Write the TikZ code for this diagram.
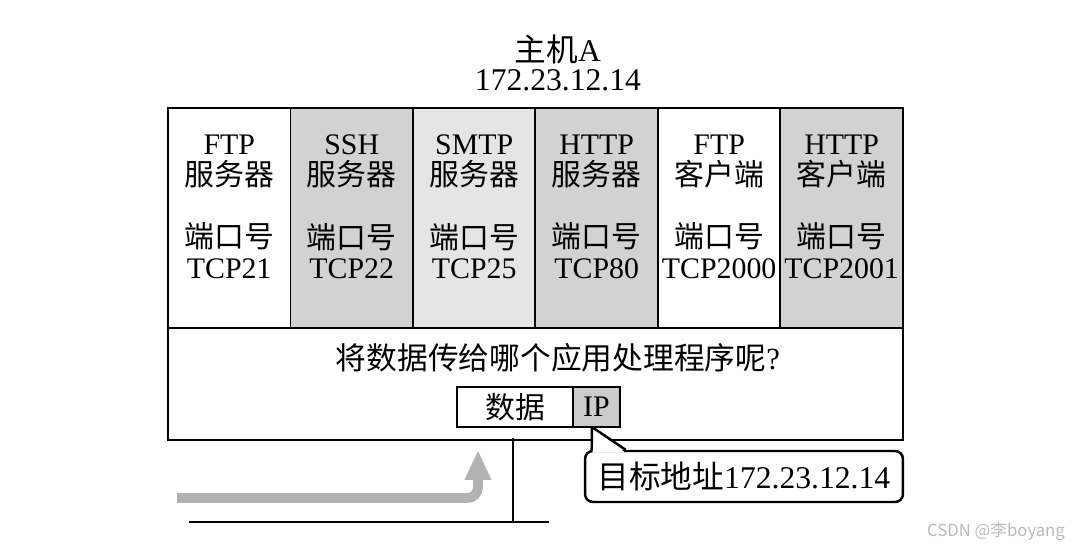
\documentclass[tikz,border=0pt]{standalone}
\usepackage{fontspec}
\setmainfont{Liberation Serif}
\newfontfamily\cjk{Noto Sans CJK SC}
\newcommand{\zh}[1]{{\cjk #1}}
\usepackage{tikz}
\usetikzlibrary{arrows.meta, positioning, calc}
\tikzset{
  portcol/.style={
    draw, line width=1.1pt, inner sep=0pt, outer sep=0pt,
    minimum width=2.45cm, minimum height=4.4cm
  },
  coltext/.style={
    align=center, inner sep=0pt, font=\fontsize{17}{17.5}\selectfont
  },
  panelbox/.style={
    draw, line width=1.1pt, inner sep=0pt, outer sep=0pt,
    minimum width=14.7cm, minimum height=2.24cm
  },
  hostframe/.style={draw, line width=1.4pt},
  packetbox/.style={
    draw, line width=1.1pt, inner sep=0pt, outer sep=0pt,
    minimum height=0.8cm, font=\fontsize{17}{17}\selectfont
  },
  wire/.style={line width=1.7pt, line cap=rect},
  flowarrow/.style={
    line width=5.6pt, color=gray!60, rounded corners=6pt,
    -{Triangle[length=17pt, width=14pt]}
  },
}

\begin{document}
\begin{tikzpicture}[
  x=0.02cm, y=-0.02cm,
  calloutbox/.style={draw, line width=1.4pt, rounded corners=4.5pt, fill=white,
    minimum width=6.36cm, minimum height=1.02cm, inner sep=0pt,
    font=\fontsize{18}{18}\selectfont},
  watermarktext/.style={font=\cjk\fontsize{9.5}{10}\selectfont, text=gray!55}
]
  \useasboundingbox (0,0) rectangle (1080,553);

  % ── Host name ──
  \node[coltext, font=\fontsize{18}{17}\selectfont] (hostname) at (558,63)
    {\zh{主机}A\\172.23.12.14};

  % ── Application columns ──
  \node[portcol, fill=white] (ftpsrv) at (229.25,218) {};
  \node[portcol, fill=gray!35, right=0pt of ftpsrv] (sshsrv) {};
  \node[portcol, fill=gray!20, right=0pt of sshsrv] (smtpsrv) {};
  \node[portcol, fill=gray!35, right=0pt of smtpsrv] (httpsrv) {};
  \node[portcol, fill=white, right=0pt of httpsrv] (ftpcli) {};
  \node[portcol, fill=gray!35, right=0pt of ftpcli] (httpcli) {};

  \node[coltext] (ftpsrvtxt) at ([yshift=6.2pt]ftpsrv.center)
    {FTP\\\zh{服务器}\\[18pt]\zh{端口号}\\TCP21};
  \node[coltext] (sshsrvtxt) at ([yshift=6.2pt]sshsrv.center)
    {SSH\\\zh{服务器}\\[18pt]\zh{端口号}\\TCP22};
  \node[coltext] (smtpsrvtxt) at ([yshift=6.2pt]smtpsrv.center)
    {SMTP\\\zh{服务器}\\[18pt]\zh{端口号}\\TCP25};
  \node[coltext] (httpsrvtxt) at ([yshift=6.2pt]httpsrv.center)
    {HTTP\\\zh{服务器}\\[18pt]\zh{端口号}\\TCP80};
  \node[coltext] (ftpclitxt) at ([yshift=6.2pt]ftpcli.center)
    {FTP\\\zh{客户端}\\[18pt]\zh{端口号}\\TCP2000};
  \node[coltext] (httpclitxt) at ([yshift=6.2pt]httpcli.center)
    {HTTP\\\zh{客户端}\\[18pt]\zh{端口号}\\TCP2001};

  % ── Lower panel ──
  \node[panelbox, anchor=north west] (panel) at (ftpsrv.south west) {};
  \draw[hostframe] (ftpsrv.north west) rectangle (panel.south east);
  \node[coltext, font=\fontsize{17.5}{18}\selectfont] (question) at (558,358)
    {\zh{将数据传给哪个应用处理程序呢}?};

  % ── Packet ──
  \node[packetbox, fill=white, minimum width=2.32cm] (payload) at (515,407) {\zh{数据}};
  \node[packetbox, fill=gray!40, minimum width=0.94cm, right=0pt of payload] (ip) {IP};

  % ── Network ──
  \coordinate (tap) at (513,522);
  \coordinate (busw) at (190,522);
  \coordinate (buse) at (548,522);
  \draw[wire] (busw) -- (buse);
  \draw[wire] (tap) -- (tap |- panel.south);

  \coordinate (flowin) at (177,498);
  \coordinate (flowup) at (478,450);
  \draw[flowarrow] (flowin) -| (flowup);

  % ── Destination callout ──
  \node[calloutbox] (target) at (744,476.5) {\zh{目标地址}172.23.12.14};
  \coordinate (tip) at ([xshift=10.8pt]ip.south west);
  \coordinate (pa) at ([xshift=4.5pt]target.north west);
  \coordinate (pb) at ([xshift=23.8pt]target.north west);
  \fill[white] ($(pa)+(1,2.5)$) -- (tip) -- ($(pb)+(-1,2.5)$) -- cycle;
  \draw[line width=1.4pt, line join=round] (pa) -- (tip) -- (pb);

  \node[watermarktext] (csdn) at (996,532) {CSDN @李boyang};
\end{tikzpicture}
\end{document}
